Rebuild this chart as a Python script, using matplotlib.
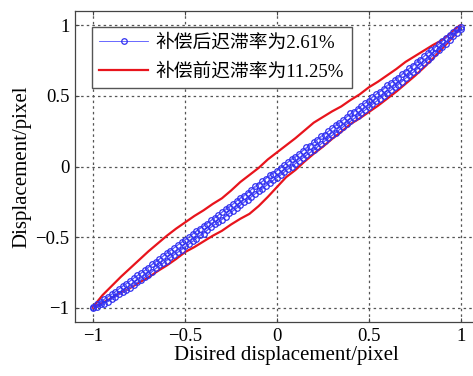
import matplotlib
matplotlib.use("Agg")
import matplotlib.pyplot as plt

plt.rcParams["font.family"] = ["Liberation Serif", "Noto Sans CJK SC"]
plt.rcParams["axes.unicode_minus"] = True

# blue: after compensation, cycle 1 (sampled on the desired displacement grid)
blue_x = [-1.00, -0.96, -0.92, -0.88, -0.84, -0.80, -0.76, -0.72, -0.68, -0.64,
          -0.60, -0.56, -0.52, -0.48, -0.44, -0.40, -0.36, -0.32, -0.28, -0.24,
          -0.20, -0.16, -0.12, -0.08, -0.04, 0.00, 0.04, 0.08, 0.12, 0.16,
          0.20, 0.24, 0.28, 0.32, 0.36, 0.40, 0.44, 0.48, 0.52, 0.56,
          0.60, 0.64, 0.68, 0.72, 0.76, 0.80, 0.84, 0.88, 0.92, 0.96, 1.00]
blue_up = [-0.995, -0.955, -0.92, -0.885, -0.845, -0.81, -0.77, -0.735, -0.69, -0.655,
           -0.61, -0.575, -0.535, -0.50, -0.455, -0.42, -0.38, -0.345, -0.30, -0.265,
           -0.22, -0.185, -0.14, -0.105, -0.06, -0.03, 0.01, 0.055, 0.09, 0.135,
           0.17, 0.215, 0.25, 0.295, 0.33, 0.375, 0.41, 0.45, 0.495, 0.53,
           0.575, 0.61, 0.655, 0.695, 0.74, 0.78, 0.825, 0.865, 0.91, 0.95, 0.99]
blue_low = [-1.00, -0.975, -0.955, -0.925, -0.89, -0.86, -0.82, -0.785, -0.745, -0.70,
            -0.665, -0.625, -0.59, -0.55, -0.51, -0.475, -0.43, -0.395, -0.355, -0.315,
            -0.275, -0.235, -0.195, -0.16, -0.115, -0.08, -0.04, 0.00, 0.04, 0.08,
            0.115, 0.16, 0.20, 0.24, 0.28, 0.32, 0.355, 0.40, 0.44, 0.48,
            0.52, 0.56, 0.60, 0.645, 0.685, 0.73, 0.775, 0.825, 0.87, 0.92, 0.975]

# blue: cycle 2 (samples in between)
blue_x2 = [-0.98, -0.94, -0.90, -0.86, -0.82, -0.78, -0.74, -0.70, -0.66, -0.62,
           -0.58, -0.54, -0.50, -0.46, -0.42, -0.38, -0.34, -0.30, -0.26, -0.22,
           -0.18, -0.14, -0.10, -0.06, -0.02, 0.02, 0.06, 0.10, 0.14, 0.18,
           0.22, 0.26, 0.30, 0.34, 0.38, 0.42, 0.46, 0.50, 0.54, 0.58,
           0.62, 0.66, 0.70, 0.74, 0.78, 0.82, 0.86, 0.90, 0.94, 0.98]
blue_up2 = [-0.975, -0.94, -0.905, -0.865, -0.83, -0.79, -0.755, -0.715, -0.675, -0.635,
            -0.595, -0.555, -0.52, -0.48, -0.44, -0.405, -0.365, -0.325, -0.29, -0.245,
            -0.21, -0.165, -0.13, -0.085, -0.05, -0.01, 0.03, 0.065, 0.11, 0.145,
            0.19, 0.225, 0.27, 0.305, 0.35, 0.385, 0.43, 0.465, 0.51, 0.545,
            0.59, 0.625, 0.67, 0.71, 0.755, 0.80, 0.84, 0.885, 0.93, 0.97]
blue_low2 = [-0.995, -0.97, -0.94, -0.905, -0.875, -0.84, -0.80, -0.765, -0.72, -0.685,
             -0.64, -0.605, -0.565, -0.53, -0.485, -0.45, -0.41, -0.375, -0.33, -0.295,
             -0.25, -0.215, -0.17, -0.135, -0.095, -0.06, -0.015, 0.02, 0.06, 0.10,
             0.14, 0.18, 0.22, 0.26, 0.30, 0.34, 0.38, 0.42, 0.46, 0.50,
             0.54, 0.58, 0.625, 0.665, 0.71, 0.755, 0.80, 0.845, 0.895, 0.945]

# red: before compensation
red_x_low = [-1.00, -0.95, -0.90, -0.85, -0.80, -0.75, -0.70, -0.65, -0.60, -0.55,
             -0.50, -0.45, -0.40, -0.35, -0.30, -0.25, -0.20, -0.15, -0.10, -0.05,
             0.00, 0.05, 0.10, 0.15, 0.20, 0.25, 0.30, 0.35, 0.40, 0.45,
             0.50, 0.55, 0.60, 0.65, 0.70, 0.75, 0.80, 0.85, 0.90, 0.95, 0.98, 1.00]
red_y_low = [-1.00, -0.965, -0.93, -0.895, -0.86, -0.82, -0.785, -0.74, -0.70, -0.655,
             -0.605, -0.57, -0.53, -0.49, -0.455, -0.41, -0.37, -0.335, -0.28, -0.215,
             -0.145, -0.075, -0.025, 0.035, 0.09, 0.14, 0.195, 0.245, 0.30, 0.34,
             0.385, 0.43, 0.48, 0.53, 0.585, 0.64, 0.70, 0.765, 0.835, 0.905, 0.95, 0.99]
red_x_up = [1.00, 0.97, 0.95, 0.90, 0.85, 0.80, 0.75, 0.70, 0.65, 0.60,
            0.55, 0.50, 0.45, 0.40, 0.35, 0.30, 0.25, 0.20, 0.15, 0.10,
            0.05, 0.00, -0.05, -0.10, -0.15, -0.20, -0.25, -0.30, -0.35, -0.40,
            -0.45, -0.50, -0.55, -0.60, -0.65, -0.70, -0.75, -0.80, -0.85, -0.90,
            -0.95, -1.00]
red_y_up = [1.00, 0.975, 0.945, 0.895, 0.86, 0.82, 0.78, 0.74, 0.69, 0.645,
            0.60, 0.56, 0.51, 0.47, 0.425, 0.39, 0.35, 0.31, 0.255, 0.20,
            0.15, 0.10, 0.05, -0.01, -0.06, -0.11, -0.17, -0.225, -0.265, -0.31,
            -0.35, -0.395, -0.44, -0.49, -0.545, -0.60, -0.66, -0.72, -0.78, -0.845,
            -0.91, -0.99]

ticks = [-1, -0.5, 0, 0.5, 1]
tick_labels = ["\u22121", "\u22120.5", "0", "0.5", "1"]
legend_labels = ["补偿后迟滞率为2.61%", "补偿前迟滞率为11.25%"]

fig = plt.figure(figsize=(4.73, 3.76), dpi=100)
ax = fig.add_axes([75 / 473, 1 - 322 / 376, 404 / 473, 311 / 376])

red_line, = ax.plot(red_x_low + red_x_up, red_y_low + red_y_up, color="#e8141c",
                    linewidth=1.6, zorder=2)
blue_style = dict(color="#5050ff", linewidth=0.6, marker="o", markersize=4,
                  markerfacecolor="none", markeredgecolor="#3030f0",
                  markeredgewidth=0.9, zorder=3)
blue_line, = ax.plot(blue_x + blue_x[::-1], blue_low + blue_up[::-1], **blue_style)
ax.plot(blue_x2 + blue_x2[::-1], blue_low2 + blue_up2[::-1], **blue_style)

ax.set_xlim(-1.1, 1.1)
ax.set_ylim(-1.1, 1.1)
ax.set_xticks(ticks)
ax.set_xticklabels(tick_labels)
ax.set_yticks(ticks)
ax.set_yticklabels(tick_labels)
ax.tick_params(direction="in", top=True, right=True, labelsize=13.5, length=3,
               color="#444444", pad=4)
ax.grid(True, linestyle=(0, (2, 2.5)), color="#555555", linewidth=0.9)
for s in ax.spines.values():
    s.set_color("#444444")
    s.set_linewidth(0.9)

ax.set_xlabel("Disired displacement/pixel", fontsize=15)
ax.xaxis.set_label_coords(0.522, -0.108, transform=ax.transAxes)
ax.xaxis.label.set_va("center")
ax.set_ylabel("Displacement/pixel", fontsize=15, labelpad=3)

leg = ax.legend([blue_line, red_line], legend_labels, loc="upper left", fontsize=13.5,
                bbox_to_anchor=(0.042, 0.95), fancybox=False, framealpha=1,
                edgecolor="#555555", handlelength=2.6, handletextpad=0.4,
                borderpad=0.4, labelspacing=0.6, borderaxespad=0.0)
leg.get_frame().set_linewidth(1.0)

fig.savefig("out.png", dpi=100)
